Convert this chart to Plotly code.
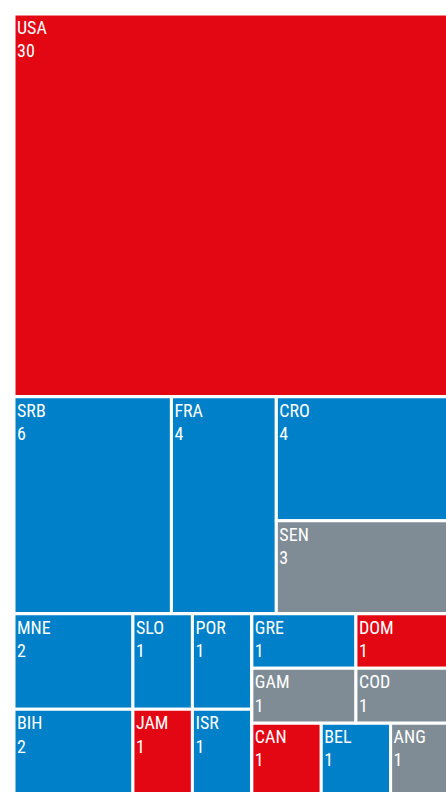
import plotly.graph_objects as go

# Leaf tiles: country code, count, colour group, enclosing block
countries = ["USA", "SRB", "FRA", "CRO", "SEN", "MNE", "BIH", "SLO", "JAM",
             "POR", "ISR", "GRE", "GAM", "DOM", "COD", "CAN", "BEL", "ANG"]
counts = [30, 6, 4, 4, 3, 2, 2, 1, 1, 1, 1, 1, 1, 1, 1, 1, 1, 1]
groups = ["red", "blue", "blue", "blue", "gray", "blue", "blue", "blue", "red",
          "blue", "blue", "blue", "gray", "red", "gray", "red", "blue", "gray"]
blocks = ["", "row2", "row2", "cro_sen", "cro_sen", "mne_bih", "mne_bih",
          "slo_jam", "slo_jam", "por_isr", "por_isr", "gre_gam", "gre_gam",
          "dom_cod", "dom_cod", "right_bottom", "right_bottom", "right_bottom"]

# Grouping blocks (not labelled), with their own parents
block_ids = ["row2", "cro_sen", "row3", "mne_bih", "slo_jam", "por_isr",
             "right", "right_top", "gre_gam", "dom_cod", "right_bottom"]
block_parents = ["", "row2", "", "row3", "row3", "row3",
                 "row3", "right", "right_top", "right_top", "right"]

palette = {"red": "#E30613", "blue": "#0080C8", "gray": "#7F8C96"}

ids = countries + block_ids
parents = blocks + block_parents
values = counts + [0] * len(block_ids)
colors = [palette[g] for g in groups] + ["white"] * len(block_ids)
templates = ["%{label}<br>%{value}"] * len(countries) + [""] * len(block_ids)

fig = go.Figure(go.Treemap(
    ids=ids,
    labels=ids,
    parents=parents,
    values=values,
    branchvalues="remainder",
    sort=False,
    marker=dict(colors=colors,
                line=dict(color="white", width=3),
                pad=dict(t=0, l=0, r=0, b=0)),
    texttemplate=templates,
    textposition="top left",
    textfont=dict(family="Roboto Condensed, Roboto", size=18, color="white"),
    tiling=dict(packing="dice-slice", pad=0),
    pathbar=dict(visible=False),
    hoverinfo="skip",
))

# The tiled area runs a little past the right and bottom edges of the view
fig.update_layout(
    width=460, height=805,
    margin=dict(l=14, r=0, t=14, b=0),
    paper_bgcolor="white",
    uniformtext=dict(minsize=18, mode="show"),
)

fig.write_html("out.html",
               post_script="document.body.style.overflow='hidden';")
